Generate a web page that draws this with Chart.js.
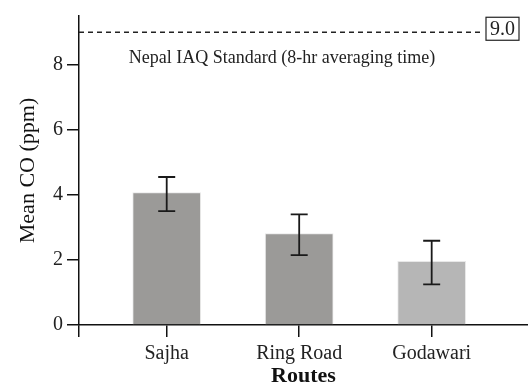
<!DOCTYPE html>
<html>
<head>
<meta charset="utf-8">
<script src="https://cdn.jsdelivr.net/npm/chart.js@4"></script>
<style>
    html, body { margin: 0; padding: 0; background: #fff; }
    #wrap { width: 528px; height: 390px; position: relative; }
</style>
</head>
<body>
<div id="wrap"><canvas id="coChart" width="528" height="390"></canvas></div>
<script>
// Data
const routes = ['Sajha', 'Ring Road', 'Godawari'];
const meanCO = [4.07, 2.81, 1.96];
const errHigh = [4.55, 3.40, 2.59];
const errLow = [3.50, 2.15, 1.25];
const barColors = ['#9b9a98', '#9b9a98', '#b6b6b6'];
const yTicks = [0, 2, 4, 6, 8];
const standardValue = 9.0;
const standardLabel = 'Nepal IAQ Standard (8-hr averaging time)';

const FONT = "'Liberation Serif', 'Times New Roman', serif";
const X_MIN = 0.338;
const X_MAX = 3.727;

// Error bars drawn through the scales
const errorBarPlugin = {
    id: 'errorBars',
    afterDatasetsDraw(chart) {
        const ctx = chart.ctx;
        const x = chart.scales.x;
        const y = chart.scales.y;
        ctx.save();
        ctx.strokeStyle = '#1a1a1a';
        ctx.lineWidth = 1.8;
        routes.forEach((r, i) => {
            const px = x.getPixelForValue(i + 1);
            const top = y.getPixelForValue(errHigh[i]);
            const bot = y.getPixelForValue(errLow[i]);
            ctx.beginPath();
            ctx.moveTo(px, top);
            ctx.lineTo(px, bot);
            ctx.moveTo(px - 8.5, top);
            ctx.lineTo(px + 8.5, top);
            ctx.moveTo(px - 8.5, bot);
            ctx.lineTo(px + 8.5, bot);
            ctx.stroke();
        });
        ctx.restore();
    }
};

// Standard line with its label and value box
const standardPlugin = {
    id: 'standardLine',
    afterDraw(chart) {
        const ctx = chart.ctx;
        const area = chart.chartArea;
        const x = chart.scales.x;
        const py = chart.scales.y.getPixelForValue(standardValue);
        ctx.save();
        ctx.strokeStyle = '#222';
        ctx.lineWidth = 1.4;
        ctx.setLineDash([5, 4]);
        ctx.beginPath();
        ctx.moveTo(area.left, py);
        ctx.lineTo(area.right - 47, py);
        ctx.stroke();
        ctx.setLineDash([]);

        ctx.fillStyle = '#222';
        ctx.font = '18px ' + FONT;
        ctx.textAlign = 'center';
        ctx.textBaseline = 'middle';
        ctx.fillText(standardLabel, x.getPixelForValue(1.87), py + 26);

        // value box
        const boxL = area.right - 42, boxR = area.right - 9;
        const boxT = py - 15, boxB = py + 8;
        ctx.lineWidth = 1.2;
        ctx.strokeRect(boxL, boxT, boxR - boxL, boxB - boxT);
        ctx.font = '20px ' + FONT;
        ctx.fillText(standardValue.toFixed(1), (boxL + boxR) / 2, (boxT + boxB) / 2 + 1);
        ctx.restore();
    }
};

document.addEventListener('DOMContentLoaded', function() {
    const ctx = document.getElementById('coChart').getContext('2d');

    const data = {
        datasets: [{
            label: 'Mean CO',
            data: routes.map((r, i) => ({ x: i + 1, y: meanCO[i] })),
            backgroundColor: barColors,
            borderColor: 'rgba(230, 230, 230, 0.9)',
            borderWidth: 1,
            barThickness: 68
        }]
    };

    new Chart(ctx, {
        type: 'bar',
        data: data,
        options: {
            responsive: false,
            animation: false,
            layout: { padding: { top: 15, left: 0, right: 0, bottom: 0 } },
            plugins: {
                legend: { display: false },
                tooltip: { enabled: false }
            },
            scales: {
                x: {
                    type: 'linear',
                    min: X_MIN,
                    max: X_MAX,
                    offset: false,
                    afterBuildTicks(scale) {
                        scale.ticks = [{ value: X_MIN }].concat(routes.map((r, i) => ({ value: i + 1 })));
                    },
                    afterFit(scale) { scale.height = 65; },
                    grid: {
                        offset: false,
                        drawOnChartArea: false,
                        tickLength: 12,
                        color: '#111',
                        lineWidth: 1.5
                    },
                    border: { color: '#111', width: 1.5 },
                    ticks: {
                        autoSkip: false,
                        maxRotation: 0,
                        padding: 5,
                        color: '#222',
                        font: { family: FONT, size: 20 },
                        callback: function(value) {
                            return Number.isInteger(value) ? routes[value - 1] : '';
                        }
                    },
                    title: {
                        display: true,
                        text: 'Routes',
                        color: '#111',
                        padding: { top: 0, bottom: 0 },
                        font: { family: FONT, size: 22, weight: 'bold' }
                    }
                },
                y: {
                    min: 0,
                    max: 9.5,
                    afterBuildTicks(scale) {
                        scale.ticks = yTicks.map(v => ({ value: v }));
                    },
                    afterFit(scale) { scale.width = 79; },
                    grid: {
                        drawOnChartArea: false,
                        tickLength: 12,
                        color: '#111',
                        lineWidth: 1.5
                    },
                    border: { color: '#111', width: 1.5 },
                    ticks: {
                        padding: 4,
                        color: '#222',
                        font: { family: FONT, size: 20 }
                    },
                    title: {
                        display: true,
                        text: 'Mean CO (ppm)',
                        color: '#111',
                        padding: { top: 15, bottom: 0 },
                        font: { family: FONT, size: 22 }
                    }
                }
            }
        },
        plugins: [errorBarPlugin, standardPlugin]
    });
});
</script>
</body>
</html>
